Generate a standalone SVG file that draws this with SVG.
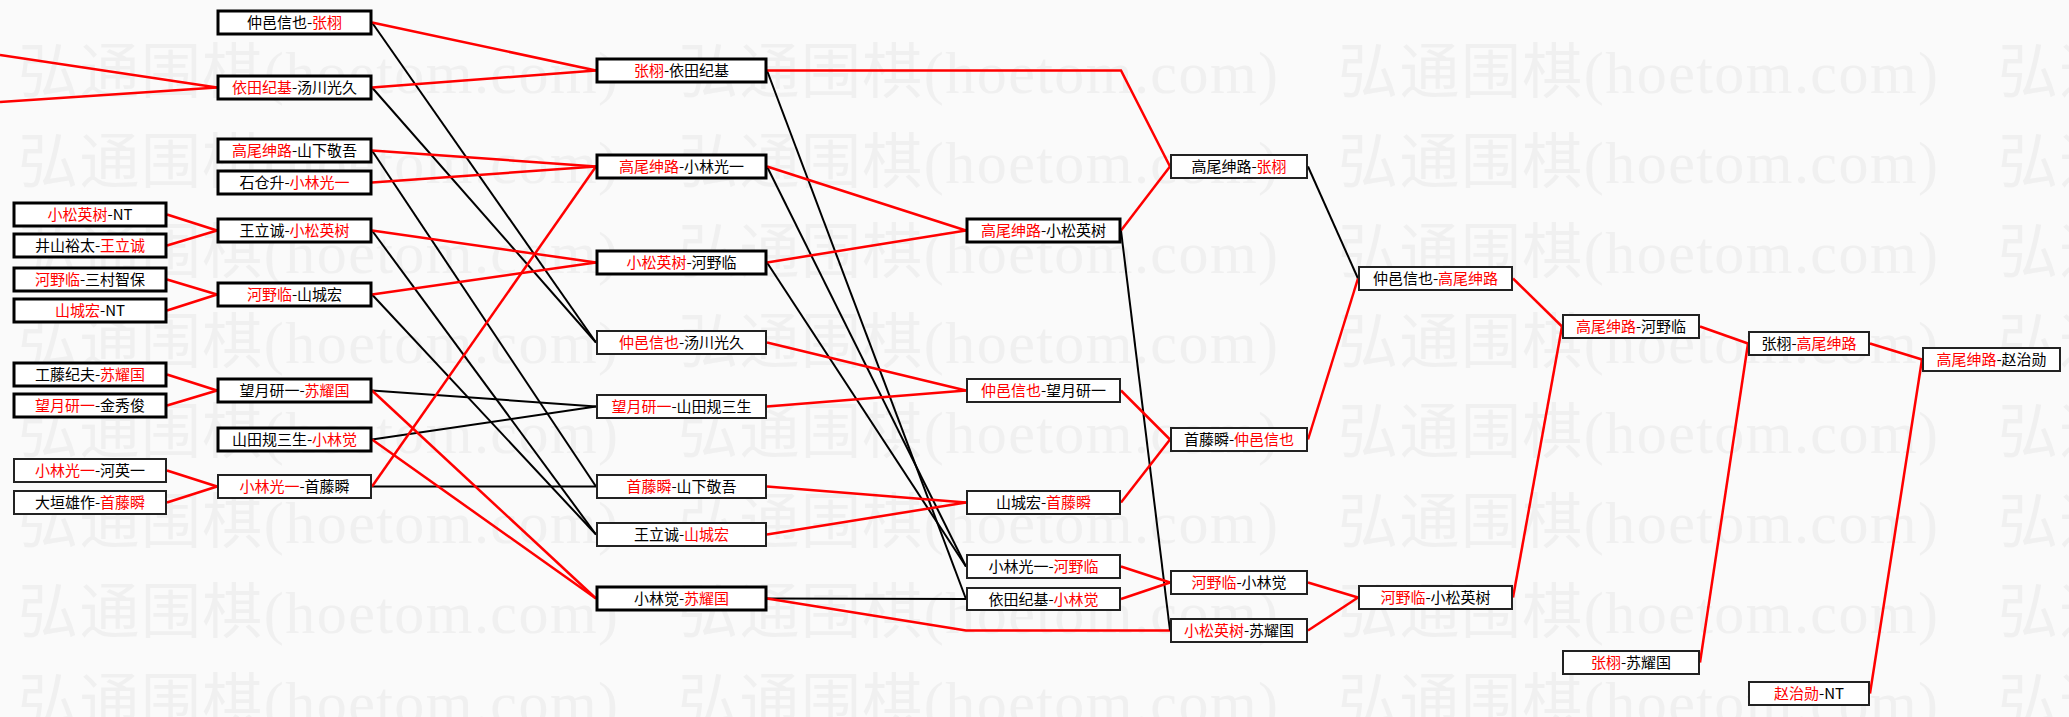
<svg xmlns="http://www.w3.org/2000/svg" width="2069" height="717" viewBox="0 0 2069 717">
<style>
.wm{font-family:"Liberation Serif","Noto Sans CJK SC",serif;font-size:60px;fill:#f0f0f0}
.box{fill:#fff;stroke:#000;stroke-width:3}
.thin{stroke-width:2;stroke:#222}
.t{font-family:"Noto Sans CJK SC",sans-serif;font-size:15px;fill:#000;text-anchor:middle}
.red{fill:#f00}
.r{stroke:#f00;stroke-width:2.5;fill:none}
.k{stroke:#000;stroke-width:2;fill:none}
</style>
<rect width="2069" height="717" fill="#fafafa"/>
<g id="watermark">
<text class="wm" x="18" y="93" textLength="600" lengthAdjust="spacing">弘通围棋(hoetom.com)</text><text class="wm" x="678" y="93" textLength="600" lengthAdjust="spacing">弘通围棋(hoetom.com)</text><text class="wm" x="1338" y="93" textLength="600" lengthAdjust="spacing">弘通围棋(hoetom.com)</text><text class="wm" x="1998" y="93" textLength="600" lengthAdjust="spacing">弘通围棋(hoetom.com)</text>
<text class="wm" x="18" y="183" textLength="600" lengthAdjust="spacing">弘通围棋(hoetom.com)</text><text class="wm" x="678" y="183" textLength="600" lengthAdjust="spacing">弘通围棋(hoetom.com)</text><text class="wm" x="1338" y="183" textLength="600" lengthAdjust="spacing">弘通围棋(hoetom.com)</text><text class="wm" x="1998" y="183" textLength="600" lengthAdjust="spacing">弘通围棋(hoetom.com)</text>
<text class="wm" x="18" y="273" textLength="600" lengthAdjust="spacing">弘通围棋(hoetom.com)</text><text class="wm" x="678" y="273" textLength="600" lengthAdjust="spacing">弘通围棋(hoetom.com)</text><text class="wm" x="1338" y="273" textLength="600" lengthAdjust="spacing">弘通围棋(hoetom.com)</text><text class="wm" x="1998" y="273" textLength="600" lengthAdjust="spacing">弘通围棋(hoetom.com)</text>
<text class="wm" x="18" y="363" textLength="600" lengthAdjust="spacing">弘通围棋(hoetom.com)</text><text class="wm" x="678" y="363" textLength="600" lengthAdjust="spacing">弘通围棋(hoetom.com)</text><text class="wm" x="1338" y="363" textLength="600" lengthAdjust="spacing">弘通围棋(hoetom.com)</text><text class="wm" x="1998" y="363" textLength="600" lengthAdjust="spacing">弘通围棋(hoetom.com)</text>
<text class="wm" x="18" y="453" textLength="600" lengthAdjust="spacing">弘通围棋(hoetom.com)</text><text class="wm" x="678" y="453" textLength="600" lengthAdjust="spacing">弘通围棋(hoetom.com)</text><text class="wm" x="1338" y="453" textLength="600" lengthAdjust="spacing">弘通围棋(hoetom.com)</text><text class="wm" x="1998" y="453" textLength="600" lengthAdjust="spacing">弘通围棋(hoetom.com)</text>
<text class="wm" x="18" y="543" textLength="600" lengthAdjust="spacing">弘通围棋(hoetom.com)</text><text class="wm" x="678" y="543" textLength="600" lengthAdjust="spacing">弘通围棋(hoetom.com)</text><text class="wm" x="1338" y="543" textLength="600" lengthAdjust="spacing">弘通围棋(hoetom.com)</text><text class="wm" x="1998" y="543" textLength="600" lengthAdjust="spacing">弘通围棋(hoetom.com)</text>
<text class="wm" x="18" y="633" textLength="600" lengthAdjust="spacing">弘通围棋(hoetom.com)</text><text class="wm" x="678" y="633" textLength="600" lengthAdjust="spacing">弘通围棋(hoetom.com)</text><text class="wm" x="1338" y="633" textLength="600" lengthAdjust="spacing">弘通围棋(hoetom.com)</text><text class="wm" x="1998" y="633" textLength="600" lengthAdjust="spacing">弘通围棋(hoetom.com)</text>
<text class="wm" x="18" y="723" textLength="600" lengthAdjust="spacing">弘通围棋(hoetom.com)</text><text class="wm" x="678" y="723" textLength="600" lengthAdjust="spacing">弘通围棋(hoetom.com)</text><text class="wm" x="1338" y="723" textLength="600" lengthAdjust="spacing">弘通围棋(hoetom.com)</text><text class="wm" x="1998" y="723" textLength="600" lengthAdjust="spacing">弘通围棋(hoetom.com)</text>
</g>
<g id="connectors">
<line class="r" x1="0" y1="55" x2="217" y2="87.5"/>
<line class="r" x1="0" y1="102" x2="217" y2="87.5"/>
<line class="r" x1="167" y1="214.5" x2="217" y2="230.5"/>
<line class="r" x1="167" y1="245.5" x2="217" y2="230.5"/>
<line class="r" x1="167" y1="279.5" x2="217" y2="294.5"/>
<line class="r" x1="167" y1="310.5" x2="217" y2="294.5"/>
<line class="r" x1="167" y1="374.5" x2="217" y2="390.5"/>
<line class="r" x1="167" y1="405.5" x2="217" y2="390.5"/>
<line class="r" x1="167" y1="470.5" x2="217" y2="486.5"/>
<line class="r" x1="167" y1="502.5" x2="217" y2="486.5"/>
<line class="k" x1="372" y1="22.5" x2="596" y2="342.5"/>
<line class="k" x1="372" y1="87.5" x2="596" y2="342.5"/>
<line class="k" x1="372" y1="150.5" x2="596" y2="486.5"/>
<line class="k" x1="372" y1="486.5" x2="596" y2="486.5"/>
<line class="k" x1="372" y1="230.5" x2="596" y2="534.5"/>
<line class="k" x1="372" y1="294.5" x2="596" y2="534.5"/>
<line class="k" x1="372" y1="390.5" x2="596" y2="406.5"/>
<line class="k" x1="372" y1="439.5" x2="596" y2="406.5"/>
<line class="r" x1="372" y1="22.5" x2="596" y2="70.5"/>
<line class="r" x1="372" y1="87.5" x2="596" y2="70.5"/>
<line class="r" x1="372" y1="150.5" x2="596" y2="166.5"/>
<line class="r" x1="372" y1="182.5" x2="596" y2="166.5"/>
<line class="r" x1="372" y1="486.5" x2="596" y2="166.5"/>
<line class="r" x1="372" y1="230.5" x2="596" y2="262.5"/>
<line class="r" x1="372" y1="294.5" x2="596" y2="262.5"/>
<line class="r" x1="372" y1="390.5" x2="596" y2="598.5"/>
<line class="r" x1="372" y1="439.5" x2="596" y2="598.5"/>
<line class="k" x1="767" y1="70.5" x2="966" y2="599"/>
<line class="k" x1="767" y1="166.5" x2="966" y2="566.5"/>
<line class="k" x1="767" y1="262.5" x2="966" y2="566.5"/>
<line class="k" x1="767" y1="598.5" x2="966" y2="599"/>
<polyline class="r" points="767,70.5 1121,70.5 1170,166.5"/>
<line class="r" x1="767" y1="166.5" x2="966" y2="230.5"/>
<line class="r" x1="767" y1="262.5" x2="966" y2="230.5"/>
<line class="r" x1="767" y1="342.5" x2="966" y2="390.5"/>
<line class="r" x1="767" y1="406.5" x2="966" y2="390.5"/>
<line class="r" x1="767" y1="486.5" x2="966" y2="502.5"/>
<line class="r" x1="767" y1="534.5" x2="966" y2="502.5"/>
<polyline class="r" points="767,598.5 966,630.5 1170,630.5"/>
<line class="k" x1="1121" y1="230.5" x2="1170" y2="630.5"/>
<line class="r" x1="1121" y1="230.5" x2="1170" y2="166.5"/>
<line class="r" x1="1121" y1="390.5" x2="1170" y2="439.5"/>
<line class="r" x1="1121" y1="502.5" x2="1170" y2="439.5"/>
<line class="r" x1="1121" y1="566.5" x2="1170" y2="582.5"/>
<line class="r" x1="1121" y1="599" x2="1170" y2="582.5"/>
<line class="k" x1="1308" y1="166.5" x2="1358" y2="278.5"/>
<line class="r" x1="1308" y1="439.5" x2="1358" y2="278.5"/>
<line class="r" x1="1308" y1="582.5" x2="1358" y2="597.5"/>
<line class="r" x1="1308" y1="630.5" x2="1358" y2="597.5"/>
<line class="r" x1="1513" y1="278.5" x2="1562" y2="326.5"/>
<line class="r" x1="1513" y1="597.5" x2="1562" y2="326.5"/>
<line class="r" x1="1700" y1="326.5" x2="1748" y2="343.5"/>
<line class="r" x1="1700" y1="662.5" x2="1748" y2="343.5"/>
<line class="r" x1="1870" y1="343.5" x2="1922" y2="359.5"/>
<line class="r" x1="1870" y1="693.5" x2="1922" y2="359.5"/>
</g>
<g id="A1"><rect class="box" x="14" y="203" width="152" height="23"/><text class="t" x="90" y="220"><tspan class="red">小松英树</tspan>-NT</text></g>
<g id="A2"><rect class="box" x="14" y="234" width="152" height="23"/><text class="t" x="90" y="251">井山裕太-<tspan class="red">王立诚</tspan></text></g>
<g id="A3"><rect class="box" x="14" y="268" width="152" height="23"/><text class="t" x="90" y="285"><tspan class="red">河野临</tspan>-三村智保</text></g>
<g id="A4"><rect class="box" x="14" y="299" width="152" height="23"/><text class="t" x="90" y="316"><tspan class="red">山城宏</tspan>-NT</text></g>
<g id="A5"><rect class="box" x="14" y="363" width="152" height="23"/><text class="t" x="90" y="380">工藤纪夫-<tspan class="red">苏耀国</tspan></text></g>
<g id="A6"><rect class="box" x="14" y="394" width="152" height="23"/><text class="t" x="90" y="411"><tspan class="red">望月研一</tspan>-金秀俊</text></g>
<g id="A7"><rect class="box thin" x="14" y="459" width="152" height="23"/><text class="t" x="90" y="476"><tspan class="red">小林光一</tspan>-河英一</text></g>
<g id="A8"><rect class="box thin" x="14" y="491" width="152" height="23"/><text class="t" x="90" y="508">大垣雄作-<tspan class="red">首藤瞬</tspan></text></g>
<g id="B1"><rect class="box" x="218" y="11" width="153" height="23"/><text class="t" x="294.5" y="28">仲邑信也-<tspan class="red">张栩</tspan></text></g>
<g id="B2"><rect class="box" x="218" y="76" width="153" height="23"/><text class="t" x="294.5" y="93"><tspan class="red">依田纪基</tspan>-汤川光久</text></g>
<g id="B3"><rect class="box" x="218" y="139" width="153" height="23"/><text class="t" x="294.5" y="156"><tspan class="red">高尾绅路</tspan>-山下敬吾</text></g>
<g id="B4"><rect class="box" x="218" y="171" width="153" height="23"/><text class="t" x="294.5" y="188">石仓升-<tspan class="red">小林光一</tspan></text></g>
<g id="B5"><rect class="box" x="218" y="219" width="153" height="23"/><text class="t" x="294.5" y="236">王立诚-<tspan class="red">小松英树</tspan></text></g>
<g id="B6"><rect class="box" x="218" y="283" width="153" height="23"/><text class="t" x="294.5" y="300"><tspan class="red">河野临</tspan>-山城宏</text></g>
<g id="B7"><rect class="box" x="218" y="379" width="153" height="23"/><text class="t" x="294.5" y="396">望月研一-<tspan class="red">苏耀国</tspan></text></g>
<g id="B8"><rect class="box" x="218" y="428" width="153" height="23"/><text class="t" x="294.5" y="445">山田规三生-<tspan class="red">小林觉</tspan></text></g>
<g id="B9"><rect class="box thin" x="218" y="475" width="153" height="23"/><text class="t" x="294.5" y="492"><tspan class="red">小林光一</tspan>-首藤瞬</text></g>
<g id="C1"><rect class="box" x="597" y="59" width="169" height="23"/><text class="t" x="681.5" y="76"><tspan class="red">张栩</tspan>-依田纪基</text></g>
<g id="C2"><rect class="box" x="597" y="155" width="169" height="23"/><text class="t" x="681.5" y="172"><tspan class="red">高尾绅路</tspan>-小林光一</text></g>
<g id="C3"><rect class="box" x="597" y="251" width="169" height="23"/><text class="t" x="681.5" y="268"><tspan class="red">小松英树</tspan>-河野临</text></g>
<g id="C4"><rect class="box thin" x="597" y="331" width="169" height="23"/><text class="t" x="681.5" y="348"><tspan class="red">仲邑信也</tspan>-汤川光久</text></g>
<g id="C5"><rect class="box thin" x="597" y="395" width="169" height="23"/><text class="t" x="681.5" y="412"><tspan class="red">望月研一</tspan>-山田规三生</text></g>
<g id="C6"><rect class="box thin" x="597" y="475" width="169" height="23"/><text class="t" x="681.5" y="492"><tspan class="red">首藤瞬</tspan>-山下敬吾</text></g>
<g id="C7"><rect class="box thin" x="597" y="523" width="169" height="23"/><text class="t" x="681.5" y="540">王立诚-<tspan class="red">山城宏</tspan></text></g>
<g id="C8"><rect class="box" x="597" y="587" width="169" height="23"/><text class="t" x="681.5" y="604">小林觉-<tspan class="red">苏耀国</tspan></text></g>
<g id="D1"><rect class="box" x="967" y="219" width="153" height="23"/><text class="t" x="1043.5" y="236"><tspan class="red">高尾绅路</tspan>-小松英树</text></g>
<g id="D2"><rect class="box thin" x="967" y="379" width="153" height="23"/><text class="t" x="1043.5" y="396"><tspan class="red">仲邑信也</tspan>-望月研一</text></g>
<g id="D3"><rect class="box thin" x="967" y="491" width="153" height="23"/><text class="t" x="1043.5" y="508">山城宏-<tspan class="red">首藤瞬</tspan></text></g>
<g id="D4"><rect class="box thin" x="967" y="555" width="153" height="23"/><text class="t" x="1043.5" y="572">小林光一-<tspan class="red">河野临</tspan></text></g>
<g id="D5"><rect class="box thin" x="967" y="588" width="153" height="22"/><text class="t" x="1043.5" y="604.5">依田纪基-<tspan class="red">小林觉</tspan></text></g>
<g id="E1"><rect class="box thin" x="1171" y="155" width="136" height="23"/><text class="t" x="1239" y="172">高尾绅路-<tspan class="red">张栩</tspan></text></g>
<g id="E2"><rect class="box thin" x="1171" y="428" width="136" height="23"/><text class="t" x="1239" y="445">首藤瞬-<tspan class="red">仲邑信也</tspan></text></g>
<g id="E3"><rect class="box thin" x="1171" y="571" width="136" height="23"/><text class="t" x="1239" y="588"><tspan class="red">河野临</tspan>-小林觉</text></g>
<g id="E4"><rect class="box thin" x="1171" y="619" width="136" height="23"/><text class="t" x="1239" y="636"><tspan class="red">小松英树</tspan>-苏耀国</text></g>
<g id="F1"><rect class="box thin" x="1359" y="267" width="153" height="23"/><text class="t" x="1435.5" y="284">仲邑信也-<tspan class="red">高尾绅路</tspan></text></g>
<g id="F2"><rect class="box thin" x="1359" y="586" width="153" height="23"/><text class="t" x="1435.5" y="603"><tspan class="red">河野临</tspan>-小松英树</text></g>
<g id="G1"><rect class="box thin" x="1563" y="315" width="136" height="23"/><text class="t" x="1631" y="332"><tspan class="red">高尾绅路</tspan>-河野临</text></g>
<g id="G2"><rect class="box thin" x="1563" y="651" width="136" height="23"/><text class="t" x="1631" y="668"><tspan class="red">张栩</tspan>-苏耀国</text></g>
<g id="H1"><rect class="box thin" x="1749" y="332" width="120" height="23"/><text class="t" x="1809" y="349">张栩-<tspan class="red">高尾绅路</tspan></text></g>
<g id="H2"><rect class="box thin" x="1749" y="682" width="120" height="23"/><text class="t" x="1809" y="699"><tspan class="red">赵治勋</tspan>-NT</text></g>
<g id="I1"><rect class="box thin" x="1923" y="348" width="137" height="23"/><text class="t" x="1991.5" y="365"><tspan class="red">高尾绅路</tspan>-赵治勋</text></g>
</svg>
